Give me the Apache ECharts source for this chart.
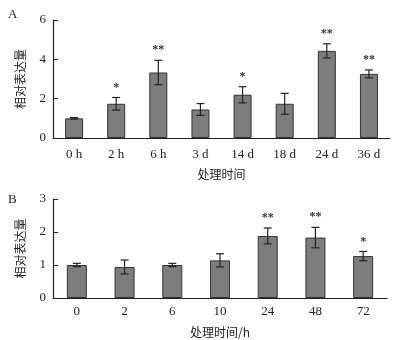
<!DOCTYPE html>
<html>
<head>
<meta charset="utf-8">
<script src="https://cdn.jsdelivr.net/npm/echarts@6/dist/echarts.min.js"></script>
<style>
  html, body { margin: 0; padding: 0; background: #fff; }
  #main { width: 397px; height: 340px; }
</style>
</head>
<body>
<div id="main"></div>
<script>
// 图A
var catsA = ['0 h', '2 h', '6 h', '3 d', '14 d', '18 d', '24 d', '36 d'];
var valsA = [1.0, 1.74, 3.33, 1.45, 2.2, 1.74, 4.43, 3.26];
var errA = [0.04, 0.32, 0.62, 0.3, 0.41, 0.53, 0.36, 0.2];
var starsA = ['', '*', '**', '', '*', '', '**', '**'];
// 图B
var catsB = ['0', '2', '6', '10', '24', '48', '72'];
var valsB = [1.0, 0.94, 1.0, 1.14, 1.88, 1.83, 1.27];
var errB = [0.05, 0.21, 0.05, 0.2, 0.24, 0.31, 0.14];
var starsB = ['', '', '', '', '**', '**', '*'];

var serif = 'Liberation Serif';
var cjk = 'Noto Sans CJK SC';

function errData(vals, err) {
  return vals.map(function (v, i) { return [i, v - err[i], v + err[i]]; });
}

function errRender(stars) {
  return function (params, api) {
    var lo = api.coord([api.value(0), api.value(1)]);
    var hi = api.coord([api.value(0), api.value(2)]);
    var w = 4;
    var style = { stroke: '#222', lineWidth: 1.2 };
    var kids = [
      { type: 'line', shape: { x1: hi[0], y1: hi[1], x2: lo[0], y2: lo[1] }, style: style },
      { type: 'line', shape: { x1: hi[0] - w, y1: hi[1], x2: hi[0] + w, y2: hi[1] }, style: style },
      { type: 'line', shape: { x1: lo[0] - w, y1: lo[1], x2: lo[0] + w, y2: lo[1] }, style: style }
    ];
    var s = stars[params.dataIndex];
    if (s) {
      kids.push({
        type: 'text',
        style: {
          text: s, x: hi[0], y: hi[1] - 4,
          textAlign: 'center', textVerticalAlign: 'bottom',
          font: 'bold 12px "' + serif + '"', fill: '#333'
        }
      });
    }
    return { type: 'group', children: kids };
  };
}

function xAx(idx, cats, name, gap, margin) {
  return {
    type: 'category', gridIndex: idx, data: cats,
    name: name, nameLocation: 'middle', nameGap: gap,
    nameTextStyle: { fontFamily: cjk, fontSize: 12, color: '#222' },
    axisLine: { lineStyle: { color: '#222', width: 1.2 } },
    axisTick: { inside: true, length: 6, lineStyle: { color: '#222' } },
    axisLabel: { fontFamily: serif, fontSize: 13, color: '#222', margin: margin }
  };
}

function yAx(idx, max) {
  return {
    type: 'value', gridIndex: idx, min: 0, max: max, interval: max === 6 ? 2 : 1,
    name: '相对表达量', nameLocation: 'middle', nameGap: 27, nameRotate: 90,
    nameTextStyle: { fontFamily: cjk, fontSize: 12, color: '#222' },
    axisLine: { show: true, lineStyle: { color: '#222', width: 1.2 } },
    axisTick: { show: true, inside: true, length: 5, lineStyle: { color: '#222' } },
    axisLabel: { fontFamily: serif, fontSize: 13, color: '#222', margin: 7 },
    splitLine: { show: false }
  };
}

var chart = echarts.init(document.getElementById('main'));
chart.setOption({
  animation: false,
  graphic: [
    { type: 'text', left: 8, top: 8, style: { text: 'A', font: '13px "' + serif + '"', fill: '#222' } },
    { type: 'text', left: 8, top: 193, style: { text: 'B', font: '13px "' + serif + '"', fill: '#222' } }
  ],
  grid: [
    { left: 53, top: 20, right: 7, height: 118 },
    { left: 53, top: 199, right: 10, height: 99 }
  ],
  xAxis: [xAx(0, catsA, '处理时间', 30, 10), xAx(1, catsB, '处理时间/h', 28, 7)],
  yAxis: [yAx(0, 6), yAx(1, 3)],
  series: [
    {
      type: 'bar', xAxisIndex: 0, yAxisIndex: 0, data: valsA, barWidth: 18,
      itemStyle: { color: '#7d7d7d', borderColor: '#333', borderWidth: 1 }
    },
    {
      type: 'custom', xAxisIndex: 0, yAxisIndex: 0, data: errData(valsA, errA),
      renderItem: errRender(starsA), z: 5
    },
    {
      type: 'bar', xAxisIndex: 1, yAxisIndex: 1, data: valsB, barWidth: 20,
      itemStyle: { color: '#7d7d7d', borderColor: '#333', borderWidth: 1 }
    },
    {
      type: 'custom', xAxisIndex: 1, yAxisIndex: 1, data: errData(valsB, errB),
      renderItem: errRender(starsB), z: 5
    }
  ]
});
</script>
</body>
</html>
